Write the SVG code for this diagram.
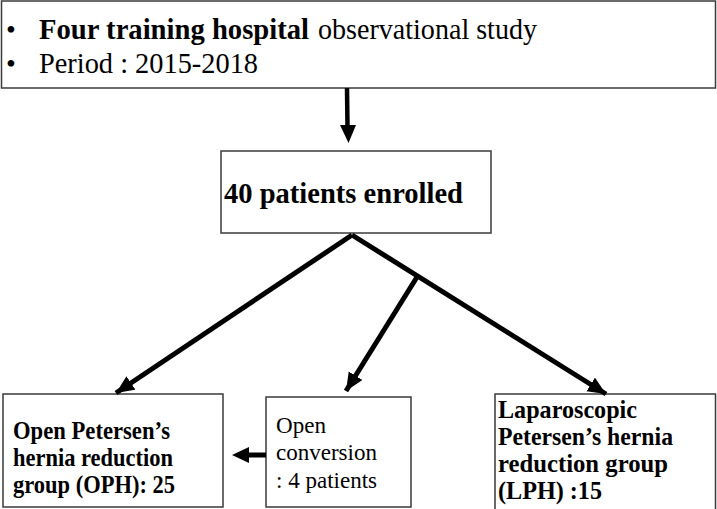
<svg xmlns="http://www.w3.org/2000/svg" width="717" height="509" viewBox="0 0 717 509">
<style>
.box{fill:#fff;stroke:#3a3a3a;stroke-width:1.5}
.t{font-family:"Liberation Serif","Times New Roman",serif;fill:#000}
.b{font-weight:bold}
.ln{stroke:#000;stroke-width:5;fill:none}
</style>
<defs>
<marker id="ah" markerUnits="userSpaceOnUse" markerWidth="20" markerHeight="18" refX="18" refY="8" orient="auto">
<path d="M0,0 L18,8 L0,16 Z" fill="#000"/>
</marker>
</defs>
<rect width="717" height="509" fill="#fff"/>
<g id="top">
<rect class="box" x="1.5" y="1" width="714" height="87"/>
<text class="t" x="6" y="39" font-size="28">•</text>
<text class="t b" x="39" y="39" font-size="28.5" textLength="270" lengthAdjust="spacingAndGlyphs">Four training hospital</text>
<text class="t" x="318" y="39" font-size="28.5" textLength="219" lengthAdjust="spacingAndGlyphs">observational study</text>
<text class="t" x="6" y="73" font-size="28">•</text>
<text class="t" x="39" y="73" font-size="28.5" textLength="219" lengthAdjust="spacingAndGlyphs">Period : 2015-2018</text>
</g>
<g id="enrolled">
<rect class="box" x="221" y="151" width="270" height="82"/>
<text class="t b" x="224" y="203" font-size="28.5" textLength="239" lengthAdjust="spacingAndGlyphs">40 patients enrolled</text>
</g>
<g id="oph">
<rect class="box" x="3" y="394" width="220" height="113"/>
<text class="t b" x="13" y="439" font-size="25" textLength="157" lengthAdjust="spacingAndGlyphs">Open Petersen’s</text>
<text class="t b" x="13" y="466" font-size="25" textLength="160" lengthAdjust="spacingAndGlyphs">hernia reduction</text>
<text class="t b" x="13" y="493" font-size="25" textLength="162" lengthAdjust="spacingAndGlyphs">group (OPH): 25</text>
</g>
<g id="conversion">
<rect class="box" x="266" y="397" width="145" height="110"/>
<text class="t" x="276" y="433" font-size="23.5" textLength="50" lengthAdjust="spacingAndGlyphs">Open</text>
<text class="t" x="276" y="460" font-size="23.5" textLength="101" lengthAdjust="spacingAndGlyphs">conversion</text>
<text class="t" x="276" y="488" font-size="23.5" textLength="101" lengthAdjust="spacingAndGlyphs">: 4 patients</text>
</g>
<g id="lph">
<rect class="box" x="495" y="394" width="220.5" height="130"/>
<text class="t b" x="498" y="418" font-size="25" textLength="139" lengthAdjust="spacingAndGlyphs">Laparoscopic</text>
<text class="t b" x="498" y="445" font-size="25" textLength="175" lengthAdjust="spacingAndGlyphs">Petersen’s hernia</text>
<text class="t b" x="498" y="472" font-size="25" textLength="170" lengthAdjust="spacingAndGlyphs">reduction group</text>
<text class="t b" x="498" y="499" font-size="25" textLength="104" lengthAdjust="spacingAndGlyphs">(LPH) :15</text>
</g>
<g id="connectors">
<line x1="347" y1="88" x2="347.5" y2="127" stroke="#000" stroke-width="4.5"/>
<path d="M340,125 L356,125 L348.5,143 Z" fill="#000"/>
<line class="ln" x1="352" y1="235" x2="116" y2="393" marker-end="url(#ah)"/>
<line class="ln" x1="352" y1="235" x2="606" y2="394" marker-end="url(#ah)"/>
<line class="ln" x1="417" y1="277" x2="346" y2="391" marker-end="url(#ah)"/>
<line x1="266" y1="455" x2="246" y2="455" stroke="#000" stroke-width="5"/>
<path d="M249,447 L249,463 L232,455 Z" fill="#000"/>
</g>
</svg>
